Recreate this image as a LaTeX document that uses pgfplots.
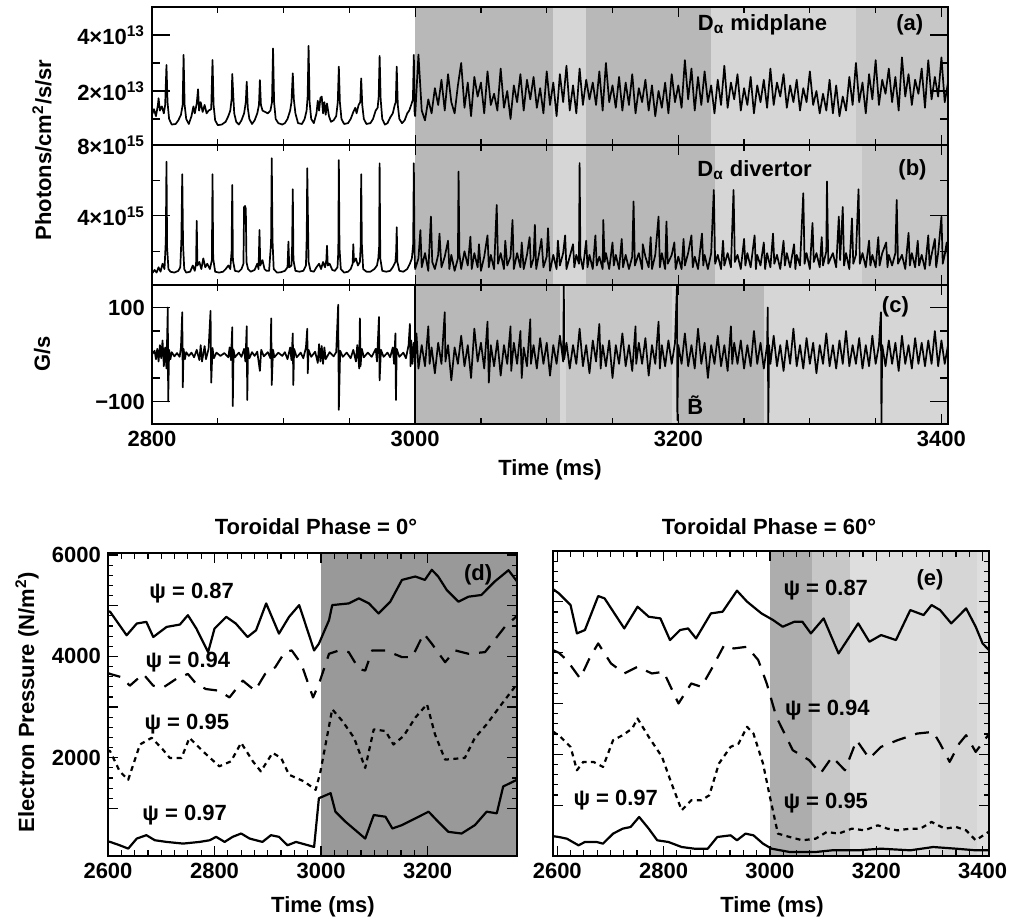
\documentclass[border=0pt]{standalone}
\usepackage{fontspec}
\setmainfont{Liberation Sans}
\usepackage{pgfplots}
\pgfplotsset{compat=1.18}
\newcommand\lbl{\fontsize{11}{13}\selectfont\bfseries}
\definecolor{shA}{gray}{0.84}
\definecolor{shB}{gray}{0.72}
\definecolor{shC}{gray}{0.78}
\definecolor{shD}{gray}{0.60}
\pgfplotsset{
  panel/.style={scale only axis, axis on top, tick align=inside, tick pos=both,
    ticklabel style={font=\lbl}, /pgf/number format/assume math mode=true,
    /pgf/number format/1000 sep={}, axis line style={line width=1pt},
    major tick length=9pt, minor tick length=4pt,
    xtick style={/pgfplots/major tick length=5pt, /pgfplots/minor tick length=3pt},
    every tick/.append style={line width=0.6pt, black}},
  trace/.style={black, line width=0.85pt, line join=round},
  prof/.style={black, line width=1.1pt, line join=round},
}
\begin{document}
\begin{tikzpicture}
\path[use as bounding box] (0,0) rectangle (505pt,-462pt);

% (a) D-alpha midplane
\begin{axis}[panel, at={(76pt,-3.5pt)}, anchor=north west, width=398pt, height=69pt,
  xmin=2800, xmax=3405, ymin=0.07, ymax=5,
  xtick={2800,3000,3200,3400}, xticklabels={}, minor x tick num=3,
  ytick={2,4}, yticklabels={2×10\textsuperscript{13},4×10\textsuperscript{13}}, minor ytick={1,3}]
\addplot[draw=none, fill=shA] coordinates {(3000,0.07)(3405,0.07)(3405,5)(3000,5)};
\addplot[draw=none, fill=shB] coordinates {(3000,0.07)(3105,0.07)(3105,5)(3000,5)};
\addplot[draw=none, fill=shB] coordinates {(3130,0.07)(3225,0.07)(3225,5)(3130,5)};
\addplot[draw=none, fill=shC] coordinates {(3335,0.07)(3405,0.07)(3405,5)(3335,5)};
\addplot[trace] coordinates {
(2800,1.15)(2801.5,1.35)(2803,1.1)(2804.5,1.5)(2805,1.74)(2806,1.3)(2807.5,1.45)(2809,1.2)(2810,1.5)(2811,2.93)(2811.8,1.6)(2813,1.0)(2815,0.8)(2818,0.82)(2820,0.95)(2822,1.15)(2823.3,1.5)(2824,3.29)(2824.8,1.5)(2826,1.0)(2828,0.82)(2830,1.1)(2831.5,1.45)(2832.5,1.2)(2834,1.55)(2835,2.06)(2835.8,1.3)(2837,1.6)(2838.5,1.25)(2840,1.5)(2841.5,1.2)(2843,1.3)(2845,1.35)(2846,3.11)(2846.8,1.5)(2848,0.95)(2850,0.78)(2853,0.8)(2856,0.9)(2858,1.1)(2859.5,1.3)(2860.5,1.7)(2861,2.61)(2861.8,1.8)(2862.5,1.2)(2864,0.9)(2866,0.8)(2868,0.95)(2870,1.2)(2871.3,1.6)(2872,2.33)(2872.8,1.4)(2874,1.0)(2876,0.82)(2878,0.95)(2880,1.2)(2881.3,1.5)(2882,2.39)(2882.8,1.5)(2884,1.3)(2886,1.25)(2888,1.2)(2890,1.3)(2891.2,1.6)(2892,3.52)(2892.8,1.6)(2894,1.0)(2896,0.85)(2899,0.8)(2901,0.85)(2903,1.0)(2905,1.3)(2906,1.6)(2907,2.63)(2907.8,1.7)(2909,1.2)(2911,0.85)(2914,0.82)(2916,1.0)(2917.5,1.3)(2918.3,1.8)(2919,3.61)(2919.8,1.6)(2921,1.0)(2923,0.85)(2925,1.2)(2926,1.65)(2927,1.3)(2928,1.75)(2929,1.8)(2930,1.2)(2931,1.6)(2932,1.15)(2933,1.55)(2934.5,1.1)(2936,0.9)(2938,0.95)(2940,1.1)(2941.2,1.6)(2942,2.87)(2942.8,1.6)(2944,1.0)(2946,0.82)(2949,0.85)(2951,1.0)(2953,1.25)(2954.5,1.4)(2955.5,1.2)(2957,1.5)(2958.3,1.6)(2959,2.45)(2959.8,1.5)(2961,1.0)(2963,0.82)(2966,0.85)(2968,1.0)(2970,1.3)(2971.5,1.4)(2972.3,1.8)(2973,3.25)(2973.8,1.7)(2975,1.0)(2977,0.8)(2979,0.85)(2981,1.05)(2983,1.2)(2984.5,1.5)(2985.3,1.6)(2986,2.87)(2986.8,1.5)(2988,1.0)(2990,0.85)(2992,0.95)(2994,1.2)(2995.5,1.3)(2997,1.5)(2998.3,1.7)(2999,3.29)(2999.6,1.2)
(3000,1.1)(3002.5,3.3)(3005,1.3)(3007.5,0.95)(3010,1.7)(3012.5,1.2)(3015,2.1)(3017.5,1.5)(3020,2.4)(3022.5,1.3)(3025,2.6)(3027.5,1.6)(3030,1.2)(3032.5,2.2)(3035,3.0)(3037.5,1.4)(3040,2.3)(3042.5,1.1)(3045,2.5)(3047.5,1.8)(3050,2.3)(3052.5,1.2)(3055,2.7)(3057.5,1.5)(3060,1.9)(3062.5,1.3)(3065,2.8)(3067.5,1.4)(3070,2.0)(3072.5,1.0)(3075,2.2)(3077.5,1.6)(3080,2.6)(3082.5,1.3)(3085,2.4)(3087.5,1.7)(3090,2.5)(3092.5,1.4)(3095,2.1)(3097.5,1.2)(3100,2.7)(3102.5,1.5)(3105,2.3)(3107.5,1.1)(3110,2.6)(3112.5,1.6)(3115,2.9)(3117.5,1.3)(3120,2.2)(3122.5,1.2)(3125,2.8)(3127.5,1.5)(3130,2.4)(3132.5,1.7)(3135,2.3)(3137.5,1.5)(3140,2.7)(3142.5,1.3)(3145,3.0)(3147.5,1.6)(3150,2.2)(3152.5,1.4)(3155,2.5)(3157.5,1.3)(3160,2.3)(3162.5,1.5)(3165,2.6)(3167.5,1.2)(3170,2.1)(3172.5,1.6)(3175,2.4)(3177.5,1.3)(3180,2.2)(3182.5,1.1)(3185,2.0)(3187.5,1.4)(3190,2.3)(3192.5,1.2)(3195,2.6)(3197.5,1.6)(3200,2.2)(3202.5,1.4)(3205,3.1)(3207.5,1.7)(3210,2.8)(3212.5,1.3)(3215,2.5)(3217.5,1.5)(3220,2.7)(3222.5,1.6)(3225,2.2)(3227.5,1.2)(3230,2.4)(3232.5,1.5)(3235,2.9)(3237.5,1.4)(3240,2.3)(3242.5,1.7)(3245,2.6)(3247.5,1.3)(3250,2.1)(3252.5,1.5)(3255,2.5)(3257.5,1.2)(3260,2.2)(3262.5,1.6)(3265,2.4)(3267.5,1.4)(3270,2.8)(3272.5,1.5)(3275,2.3)(3277.5,1.8)(3280,2.6)(3282.5,1.4)(3285,2.2)(3287.5,1.6)(3290,2.4)(3292.5,1.3)(3295,2.1)(3297.5,1.6)(3300,2.7)(3302.5,1.5)(3305,2.0)(3307.5,1.2)(3310,1.9)(3312.5,1.3)(3315,2.4)(3317.5,1.2)(3320,2.2)(3322.5,1.1)(3325,1.8)(3327.5,1.3)(3330,2.5)(3332.5,1.5)(3335,3.0)(3337.5,1.6)(3340,2.3)(3342.5,1.2)(3345,2.6)(3347.5,1.7)(3350,3.1)(3352.5,1.5)(3355,2.4)(3357.5,1.9)(3360,2.8)(3362.5,1.6)(3365,2.5)(3367.5,1.3)(3370,3.2)(3372.5,1.8)(3375,2.6)(3377.5,1.5)(3380,2.4)(3382.5,1.9)(3385,2.8)(3387.5,1.4)(3390,3.1)(3392.5,1.7)(3395,2.5)(3397.5,1.8)(3400,3.2)(3402.5,1.6)(3405,2.3)};
\node[font=\lbl] at (axis cs:3264,4.36) {D\textsubscript{α} midplane};
\node[font=\lbl] at (axis cs:3376,4.36) {(a)};
\end{axis}

% (b) D-alpha divertor
\begin{axis}[panel, at={(76pt,-72.5pt)}, anchor=north west, width=398pt, height=70pt,
  xmin=2800, xmax=3405, ymin=0.1, ymax=8,
  xtick={2800,3000,3200,3400}, xticklabels={}, minor x tick num=3,
  ytick={4,8}, yticklabels={4×10\textsuperscript{15},8×10\textsuperscript{15}}, minor ytick={2,6}]
\addplot[draw=none, fill=shA] coordinates {(3000,0.1)(3405,0.1)(3405,8)(3000,8)};
\addplot[draw=none, fill=shB] coordinates {(3000,0.1)(3105,0.1)(3105,8)(3000,8)};
\addplot[draw=none, fill=shB] coordinates {(3130,0.1)(3228,0.1)(3228,8)(3130,8)};
\addplot[draw=none, fill=shC] coordinates {(3340,0.1)(3405,0.1)(3405,8)(3340,8)};
\addplot[trace] coordinates {
(2800,0.75)(2802,0.95)(2803.5,0.8)(2805,1.1)(2806.5,0.85)(2808,1.3)(2809.5,1.0)(2810.5,2.6)(2811,7.06)(2811.5,2.2)(2812.5,1.0)(2814,0.85)(2817,0.8)(2820,0.9)(2821.5,1.1)(2822.3,2.6)(2823,6.35)(2823.6,2.4)(2824.5,1.0)(2826,0.8)(2829,0.85)(2831,1.2)(2832.5,0.9)(2833.5,1.3)(2834,3.72)(2834.5,1.2)(2836,1.4)(2837.5,1.0)(2839,1.6)(2840.5,1.1)(2842,1.3)(2844,1.0)(2845.5,1.5)(2846,6.35)(2846.5,1.6)(2848,0.85)(2851,0.8)(2854,0.85)(2856,1.0)(2858,1.2)(2859.5,1.0)(2860.5,2.0)(2861,5.75)(2861.5,1.5)(2863,0.9)(2866,0.85)(2868,1.0)(2869.5,1.3)(2870,4.5)(2870.7,4.56)(2871.3,4.4)(2871.8,1.4)(2873,1.0)(2875,0.85)(2878,0.95)(2880,1.3)(2881,1.0)(2881.7,3.21)(2882.3,1.2)(2884,1.5)(2885.5,1.0)(2887,0.9)(2889,0.9)(2890.5,2.5)(2891,7.25)(2891.6,2.6)(2892.5,1.0)(2895,0.8)(2898,0.82)(2901,0.9)(2903,1.1)(2903.7,2.55)(2904.3,1.1)(2906,1.2)(2906.5,2.3)(2907,5.5)(2907.5,1.5)(2909,0.9)(2912,0.85)(2915,0.9)(2917,1.2)(2917.6,2.8)(2918,6.69)(2918.5,4.0)(2919,1.4)(2920.5,0.9)(2923,0.85)(2925,1.1)(2927,1.3)(2928.5,1.0)(2930,1.4)(2931.5,1.1)(2932.5,1.5)(2933,2.31)(2933.6,1.2)(2935,1.3)(2937,0.95)(2939,0.9)(2941,1.1)(2941.6,2.0)(2942,7.15)(2942.5,2.2)(2943.5,1.0)(2946,0.8)(2949,0.85)(2951,1.0)(2952.5,1.3)(2953,2.4)(2953.5,1.4)(2955,1.6)(2956.5,1.2)(2958,1.4)(2958.6,2.3)(2959,6.35)(2959.5,2.4)(2960.5,1.0)(2963,0.85)(2966,0.85)(2969,1.0)(2971,1.2)(2972,1.6)(2972.6,2.2)(2973,6.97)(2973.5,1.6)(2975,0.9)(2978,0.85)(2981,0.9)(2983,1.1)(2985,1.4)(2985.6,2.0)(2986,3.36)(2986.5,1.4)(2988,0.9)(2991,0.85)(2994,1.0)(2996,1.3)(2997.5,1.6)(2998.5,2.4)(2999,6.97)(2999.5,2.0)
(3000,1.0)(3002.5,1.6)(3004,3.2)(3005,1.1)(3007.5,1.9)(3010,0.9)(3012,3.96)(3013,1.4)(3015,1.0)(3017.5,1.8)(3018.5,3.0)(3020,1.1)(3022.5,1.7)(3025,2.6)(3026,1.0)(3027.5,1.8)(3030,0.9)(3032.5,1.6)(3033,6.5)(3033.6,1.9)(3035,1.0)(3037.5,2.0)(3040,1.2)(3042,2.83)(3043,1.0)(3045,1.9)(3047.5,1.1)(3048.5,2.4)(3050,0.9)(3052.5,1.7)(3055,2.9)(3056,1.1)(3057.5,1.8)(3060,1.0)(3062,4.62)(3063,1.3)(3065,1.9)(3067.5,1.0)(3068.5,2.6)(3070,1.2)(3072.5,1.7)(3074,3.77)(3075,1.0)(3077.5,1.9)(3080,1.1)(3081,2.5)(3082.5,1.0)(3085,1.8)(3087,2.8)(3088,1.1)(3090,1.6)(3091,3.49)(3092,1.0)(3094,1.8)(3096,2.7)(3097.5,1.1)(3100,1.7)(3101,3.3)(3102.5,0.9)(3105,1.8)(3107.5,1.0)(3108.5,2.6)(3110,1.2)(3112.5,1.9)(3114,2.9)(3115,1.0)(3117.5,1.7)(3120,2.4)(3121,1.1)(3122.5,1.8)(3124.5,1.3)(3125,6.98)(3125.6,1.7)(3127.5,1.0)(3130,2.6)(3131,1.1)(3132.5,1.8)(3135,1.0)(3137,2.9)(3138,1.2)(3140,1.7)(3142.5,1.0)(3143,3.77)(3144,1.4)(3145,1.9)(3147.5,1.0)(3150,2.5)(3151,1.2)(3152.5,1.8)(3155,1.0)(3157,2.7)(3158,1.1)(3160,1.8)(3162.5,1.0)(3165,1.7)(3166,4.81)(3167,1.2)(3170,1.9)(3172.5,1.0)(3173,2.4)(3175,1.7)(3177.5,1.1)(3179,2.8)(3180,1.0)(3182.5,1.8)(3185,3.96)(3186,1.1)(3187.5,1.9)(3190,1.0)(3191,3.68)(3192,1.3)(3195,1.8)(3197,2.5)(3198,1.0)(3200,1.7)(3202.5,1.0)(3204,2.7)(3205,1.2)(3207.5,1.9)(3210,2.9)(3211,1.1)(3212.5,1.7)(3215,1.0)(3218,3.0)(3219,1.2)(3220,1.8)(3222.5,1.0)(3225,1.9)(3227,5.46)(3228,1.3)(3230,1.8)(3232.5,1.0)(3234,2.6)(3235,1.2)(3237.5,1.9)(3240,1.1)(3242,5.46)(3243,1.4)(3245,1.8)(3247.5,1.0)(3250,2.7)(3251,1.2)(3252.5,1.9)(3255,1.1)(3258,2.9)(3259,1.0)(3260,1.8)(3262.5,1.2)(3265,2.5)(3266,1.0)(3267.5,1.9)(3270,1.1)(3272,3.0)(3273,1.3)(3275,1.8)(3277.5,1.0)(3280,2.6)(3281,1.2)(3282.5,1.9)(3285,1.1)(3288,2.4)(3289,1.0)(3290,1.8)(3292.5,1.2)(3295,5.28)(3296,1.3)(3297.5,1.9)(3300,1.0)(3302,3.6)(3303,1.4)(3305,1.9)(3307.5,1.1)(3309,2.8)(3310,1.2)(3312.5,2.0)(3313,5.94)(3314,1.3)(3317.5,1.9)(3320,1.1)(3322,3.96)(3323,1.5)(3325,4.5)(3326,1.2)(3327.5,1.9)(3330,1.0)(3332,3.86)(3333,1.3)(3335,1.8)(3337,5.5)(3338,1.3)(3340,1.9)(3342.5,1.1)(3345,2.6)(3346,1.2)(3347.5,1.8)(3350,1.1)(3352,2.8)(3353,1.2)(3355,1.9)(3358,2.5)(3359,1.1)(3360,1.8)(3362.5,1.2)(3365,1.9)(3366,4.9)(3367,1.3)(3370,1.8)(3372.5,1.0)(3375,3.04)(3376,1.2)(3377.5,1.9)(3380,1.1)(3382,2.6)(3383,1.2)(3385,1.8)(3387.5,1.0)(3390,2.9)(3391,1.2)(3392.5,1.8)(3395,2.7)(3396,1.1)(3397.5,1.9)(3400,3.96)(3401,1.3)(3402.5,1.8)(3404,2.5)(3405,1.6)};
\node[font=\lbl] at (axis cs:3258,6.6) {D\textsubscript{α} divertor};
\node[font=\lbl] at (axis cs:3378,6.6) {(b)};
\end{axis}

% (c) B-dot
\begin{axis}[panel, at={(76pt,-142.5pt)}, anchor=north west, width=398pt, height=69.5pt,
  xmin=2800, xmax=3405, ymin=-148, ymax=148,
  xtick={2800,3000,3200,3400}, minor x tick num=3,
  ytick={-100,100}, yticklabels={−100,100}, minor ytick={-50,50}]
\addplot[draw=none, fill=shA] coordinates {(3000,-148)(3405,-148)(3405,148)(3000,148)};
\addplot[draw=none, fill=shB] coordinates {(3000,-148)(3110,-148)(3110,148)(3000,148)};
\addplot[draw=none, fill=shC] coordinates {(3115,-148)(3195,-148)(3195,148)(3115,148)};
\addplot[draw=none, fill=shB] coordinates {(3199,-148)(3265,-148)(3265,148)(3199,148)};
\addplot[black, line width=1pt] coordinates {(3000,-148)(3000,148)};
\addplot[trace] coordinates {
(2800,0)(2802,8)(2803,-10)(2804,12)(2805,-15)(2806,20)(2807,-8)(2808,30)(2809,-25)(2810,15)(2811,-30)(2812,100)(2812.3,-100)(2813,10)(2814,-10)(2815,5)(2817,-4)(2819,3)(2821,-5)(2822,15)(2823,90)(2823.4,-70)(2824,12)(2825,-10)(2826,5)(2828,-3)(2830,4)(2832,-6)(2834,10)(2836,-12)(2837,20)(2838,-15)(2840,18)(2841,-10)(2843,12)(2844.5,93)(2845,-60)(2846,14)(2847,-8)(2849,4)(2852,-3)(2855,3)(2858,-6)(2859,15)(2860,-12)(2861,58)(2861.4,-110)(2862,10)(2863,-6)(2866,4)(2868,-5)(2870,12)(2871,-15)(2872,60)(2872.4,-97)(2873,14)(2874,-8)(2876,5)(2878,-3)(2880,6)(2882,-35)(2883,10)(2885,-4)(2888,5)(2890,-8)(2890.6,77)(2891,-65)(2892,10)(2893,-6)(2896,4)(2899,-3)(2901,5)(2903,-10)(2905,15)(2906,-12)(2907,45)(2907.4,-65)(2908,12)(2910,-6)(2913,4)(2915,-8)(2917,15)(2918,55)(2918.4,-40)(2919,10)(2921,-5)(2924,6)(2926,-18)(2927,22)(2928,-15)(2929,18)(2930,-20)(2931,15)(2932,-10)(2935,5)(2938,-4)(2940,5)(2941.5,106)(2942,-118)(2943,8)(2945,-5)(2948,4)(2951,-8)(2953,10)(2955,-15)(2956,20)(2957.5,-30)(2958,77)(2958.5,-25)(2959.5,12)(2961,-6)(2964,4)(2967,-5)(2970,12)(2971,-15)(2972.5,80)(2973,-55)(2974,10)(2976,-5)(2979,4)(2981,-6)(2983,15)(2984,-20)(2985,45)(2985.4,-97)(2986,12)(2988,-5)(2991,4)(2993,-8)(2995,20)(2996,65)(2996.5,-25)(2997,30)(2998,-20)(2999,25)
(3000,-10)(3001,45)(3002.5,-30)(3005,20)(3007.5,-25)(3010,60)(3011,-20)(3012.5,15)(3015,-40)(3017.5,25)(3020,-20)(3022.5,90)(3023,-15)(3025,20)(3027.5,-55)(3030,15)(3032.5,-20)(3035,40)(3037.5,-25)(3040,20)(3042.5,-50)(3045,55)(3047.5,-15)(3050,25)(3052.5,-30)(3055,70)(3056,-60)(3057.5,20)(3060,-25)(3062.5,30)(3065,-45)(3067.5,20)(3070,-20)(3072.5,60)(3073,-35)(3075,25)(3077.5,-20)(3080,50)(3081,-50)(3082.5,15)(3085,-25)(3087.5,75)(3088,-20)(3090,20)(3092.5,-30)(3095,35)(3097.5,-20)(3100,25)(3102.5,-45)(3105,20)(3107.5,-20)(3110,40)(3112.5,-15)(3113,147)(3113.3,-10)(3115,25)(3117.5,-30)(3120,20)(3122.5,-20)(3125,55)(3127.5,-25)(3130,20)(3132.5,-40)(3135,30)(3137.5,-15)(3140,65)(3141,-30)(3142.5,20)(3145,-25)(3147.5,30)(3150,-50)(3152.5,20)(3155,-20)(3157.5,45)(3160,-25)(3162.5,20)(3165,-35)(3167.5,60)(3168,-20)(3170,25)(3172.5,-20)(3175,35)(3177.5,-45)(3180,20)(3182.5,-20)(3185,70)(3186,-30)(3187.5,20)(3190,-25)(3192.5,30)(3195,-20)(3197.5,25)(3199,147)(3199.3,-140)(3200,20)(3202.5,-20)(3205,45)(3207.5,-25)(3210,20)(3212.5,-30)(3215,55)(3217.5,-20)(3220,25)(3222.5,-50)(3225,20)(3227.5,-20)(3230,40)(3232.5,-25)(3235,20)(3237.5,-35)(3240,60)(3241,-20)(3242.5,25)(3245,-20)(3247.5,30)(3250,-30)(3252.5,20)(3255,-25)(3257.5,50)(3260,-20)(3262.5,25)(3265,-30)(3267.5,20)(3268,100)(3268.4,-147)(3269,20)(3270,-20)(3272.5,40)(3275,-25)(3277.5,20)(3280,-35)(3282.5,30)(3285,-20)(3287.5,55)(3290,-25)(3292.5,20)(3295,-30)(3297.5,35)(3300,-20)(3302.5,25)(3305,-40)(3307.5,20)(3310,-20)(3312.5,45)(3315,-25)(3317.5,20)(3320,-30)(3322.5,30)(3325,-20)(3327.5,50)(3330,-25)(3332.5,20)(3335,-20)(3337.5,35)(3340,-30)(3342.5,20)(3345,-25)(3347.5,40)(3350,-20)(3352.5,20)(3354,90)(3354.4,-147)(3355,20)(3357.5,-25)(3360,30)(3362.5,-20)(3365,25)(3367.5,-35)(3370,40)(3372.5,-20)(3375,20)(3377.5,-30)(3380,35)(3382.5,-20)(3385,25)(3387.5,-25)(3390,30)(3392.5,-20)(3395,50)(3397.5,-25)(3400,30)(3402.5,-20)(3405,20)};
\node[font=\lbl] at (axis cs:3365,102) {(c)};
\node[font=\lbl] at (axis cs:3213,-108) {\~{B}};
\end{axis}

\node[font=\lbl, rotate=90] at (21pt,-75pt) {Photons/cm\textsuperscript{2}/s/sr};
\node[font=\lbl, rotate=90] at (21pt,-177pt) {G/s};
\node[font=\lbl] at (275pt,-235pt) {Time (ms)};

% (d) toroidal phase 0
\begin{axis}[panel, at={(54pt,-276.5pt)}, anchor=north west, width=204.5pt, height=151.5pt,
  xmin=2600, xmax=3368, ymin=60, ymax=6040,
  xtick={2600,2800,3000,3200}, minor x tick num=7,
  ytick={1000,2000,...,6000}, yticklabels={,2000,,4000,,6000}, minor y tick num=4,
  major tick length=5pt, minor tick length=2.5pt]
\addplot[draw=none, fill=shD] coordinates {(3000,60)(3368,60)(3368,6040)(3000,6040)};
\addplot[prof] coordinates {(2598,4900)(2604,4880)(2635,4416)(2654,4648)(2672,4681)(2685,4382)(2710,4581)(2735,4628)(2750,4813)(2766,4548)(2788,4084)(2800,4548)(2822,4780)(2840,4648)(2862,4382)(2878,4515)(2897,5045)(2921,4449)(2940,4780)(2959,5012)(2987,4117)(2996,4250)(3015,4714)(3021,5012)(3052,5045)(3071,5145)(3090,5045)(3108,4847)(3130,5079)(3152,5509)(3177,5576)(3195,5509)(3208,5708)(3220,5576)(3236,5311)(3258,5079)(3277,5178)(3301,5211)(3326,5476)(3352,5700)(3368,5480)};
\addplot[prof, dash pattern=on 7pt off 5pt] coordinates {(2598,3680)(2604,3653)(2626,3587)(2641,3421)(2666,3653)(2685,3421)(2704,3388)(2728,3554)(2750,3653)(2766,3454)(2784,3355)(2809,3322)(2828,3189)(2853,3521)(2876,3322)(2895,3653)(2914,3786)(2932,4084)(2945,4117)(2963,3852)(2985,3189)(2996,3454)(3015,4051)(3034,4117)(3052,4084)(3071,3752)(3083,3719)(3096,4117)(3121,4117)(3152,3985)(3171,3985)(3193,4449)(3208,4250)(3233,3885)(3252,4117)(3277,4051)(3308,4084)(3345,4581)(3368,4800)};
\addplot[prof, dash pattern=on 2.5pt off 2.2pt] coordinates {(2598,2150)(2604,2128)(2622,1730)(2638,1565)(2660,2261)(2682,2393)(2703,2161)(2716,1996)(2738,1996)(2753,2393)(2778,2128)(2809,1830)(2831,1929)(2850,2294)(2872,1929)(2887,1730)(2909,2095)(2925,1996)(2940,1664)(2968,1532)(2990,1366)(2999,1730)(3021,2957)(3040,2725)(3062,2393)(3083,1797)(3099,2559)(3121,2526)(3136,2261)(3155,2427)(3177,2791)(3199,3056)(3214,2460)(3233,1962)(3270,1996)(3289,2393)(3311,2659)(3339,3056)(3368,3454)};
\addplot[prof] coordinates {(2598,350)(2604,338)(2622,272)(2638,206)(2654,404)(2672,471)(2688,371)(2710,338)(2741,305)(2772,338)(2791,371)(2803,438)(2819,338)(2834,438)(2850,504)(2866,404)(2890,338)(2906,471)(2921,438)(2937,272)(2953,338)(2987,239)(2996,1200)(3018,1300)(3027,935)(3046,736)(3083,404)(3099,869)(3121,835)(3134,603)(3152,670)(3177,802)(3202,935)(3220,736)(3239,537)(3264,504)(3289,670)(3311,935)(3330,902)(3342,1432)(3368,1565)};
\node[font=\lbl] at (axis cs:2757,5254) {ψ = 0.87};
\node[font=\lbl] at (axis cs:2750,3880) {ψ = 0.94};
\node[font=\lbl] at (axis cs:2748,2667) {ψ = 0.95};
\node[font=\lbl] at (axis cs:2744,876) {ψ = 0.97};
\node[font=\lbl] at (axis cs:3295,5612) {(d)};
\end{axis}

% (e) toroidal phase 60
\begin{axis}[panel, at={(276.5pt,-275.5pt)}, anchor=north west, width=218pt, height=152.5pt,
  xmin=2592, xmax=3412, ymin=0, ymax=6000,
  xtick={2600,2800,3000,3200,3400}, minor x tick num=7,
  ytick={1000,2000,...,6000}, yticklabels={}, minor y tick num=4,
  major tick length=5pt, minor tick length=2.5pt]
\addplot[draw=none, fill=shA!80!white] coordinates {(3000,0)(3412,0)(3412,6000)(3000,6000)};
\addplot[draw=none, fill=shC] coordinates {(3000,0)(3150,0)(3150,6000)(3000,6000)};
\addplot[draw=none, fill=shD!80!white] coordinates {(3000,0)(3080,0)(3080,6000)(3000,6000)};
\addplot[draw=none, fill=shA] coordinates {(3320,0)(3390,0)(3390,6000)(3320,6000)};
\addplot[prof] coordinates {(2592,5250)(2603,5167)(2625,4937)(2637,4379)(2652,4445)(2677,5114)(2689,5068)(2726,4477)(2751,4904)(2772,4707)(2794,4674)(2812,4248)(2831,4445)(2846,4477)(2861,4280)(2889,4773)(2911,4806)(2938,5219)(2957,5003)(2984,4773)(3006,4641)(3024,4510)(3046,4609)(3061,4609)(3077,4379)(3101,4674)(3129,3985)(3166,4576)(3187,4215)(3209,4346)(3237,4248)(3264,4838)(3289,4740)(3304,4937)(3320,4838)(3341,4576)(3369,4871)(3387,4510)(3400,4182)(3412,4050)};
\addplot[prof, dash pattern=on 7pt off 5pt] coordinates {(2592,4050)(2603,3998)(2618,3854)(2643,3493)(2662,3919)(2677,4182)(2701,3788)(2726,3591)(2751,3722)(2778,3591)(2800,3624)(2828,3000)(2852,3394)(2871,3328)(2889,3657)(2914,4149)(2932,4083)(2957,4116)(2978,3854)(2994,3394)(3012,2738)(3043,2081)(3074,1884)(3095,1622)(3117,1950)(3141,1687)(3163,2278)(3187,1917)(3209,2147)(3240,2278)(3277,2409)(3307,2442)(3320,2212)(3338,1851)(3356,2212)(3369,2376)(3387,2048)(3412,2400)};
\addplot[prof, dash pattern=on 2.5pt off 2.2pt] coordinates {(2592,2450)(2606,2344)(2625,2147)(2637,1687)(2649,1851)(2668,1851)(2686,1753)(2705,2278)(2723,2376)(2741,2508)(2751,2705)(2772,2344)(2797,1950)(2815,1425)(2834,899)(2852,1096)(2871,1096)(2886,1195)(2904,1818)(2926,2147)(2941,2212)(2957,2541)(2969,2409)(2987,1818)(3000,1162)(3015,440)(3037,374)(3061,309)(3086,341)(3107,473)(3129,440)(3154,538)(3178,505)(3203,604)(3221,538)(3240,505)(3264,538)(3283,538)(3304,670)(3329,538)(3350,571)(3369,505)(3387,309)(3412,480)};
\addplot[prof] coordinates {(2592,390)(2603,374)(2618,341)(2640,210)(2652,276)(2674,276)(2686,243)(2705,440)(2723,538)(2738,571)(2754,768)(2772,538)(2788,309)(2809,276)(2834,177)(2858,144)(2883,144)(2901,374)(2926,407)(2938,309)(2954,440)(2969,407)(2987,243)(3003,144)(3037,79)(3086,79)(3117,112)(3166,112)(3209,144)(3264,112)(3307,177)(3350,144)(3387,112)(3412,112)};
\node[font=\lbl] at (axis cs:3105,5232) {ψ = 0.87};
\node[font=\lbl] at (axis cs:3301,5429) {(e)};
\node[font=\lbl] at (axis cs:3108,2872) {ψ = 0.94};
\node[font=\lbl] at (axis cs:3105,1043) {ψ = 0.95};
\node[font=\lbl] at (axis cs:2710,1102) {ψ = 0.97};
\end{axis}

\node[font=\lbl, rotate=90] at (13.5pt,-351pt) {Electron Pressure (N/m\textsuperscript{2})};
\node[font=\lbl] at (158pt,-263.5pt) {Toroidal Phase = 0°};
\node[font=\lbl] at (384.5pt,-263.5pt) {Toroidal Phase = 60°};
\node[font=\lbl] at (161.5pt,-453.5pt) {Time (ms)};
\node[font=\lbl] at (386pt,-453.5pt) {Time (ms)};
\end{tikzpicture}
\end{document}
